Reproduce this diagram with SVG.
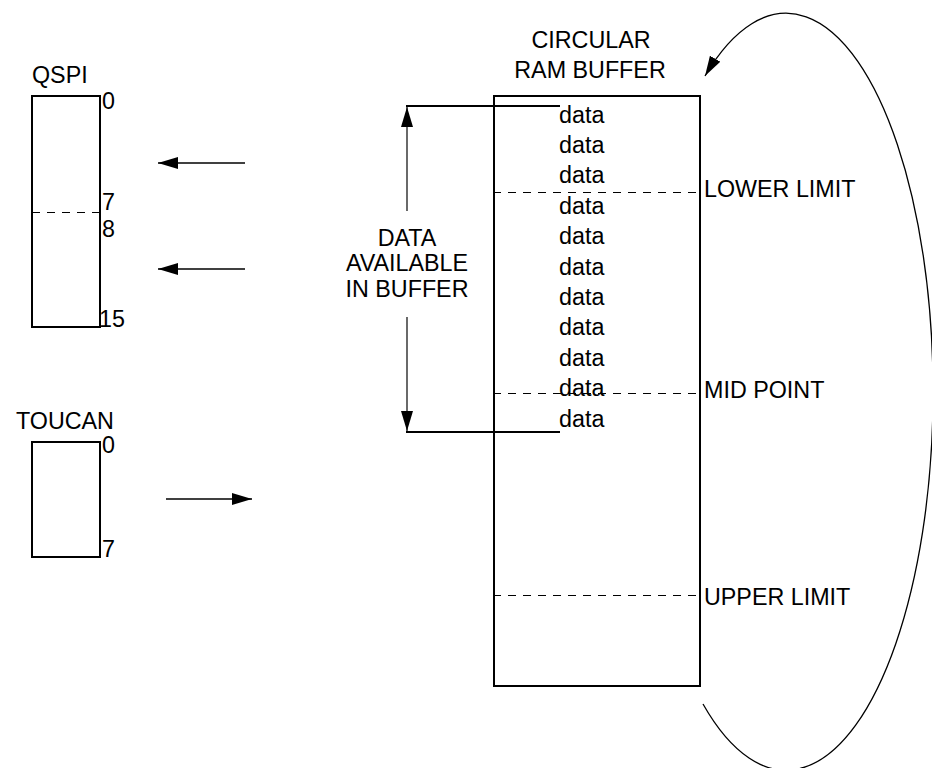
<svg xmlns="http://www.w3.org/2000/svg" width="932" height="768" viewBox="0 0 932 768">
<style>
text{font-family:"Liberation Sans",Arial,sans-serif;font-size:23.3px;fill:#000}
.box{fill:none;stroke:#000;stroke-width:2}
.dash{fill:none;stroke:#000;stroke-width:1;stroke-dasharray:8 7}
.arr{fill:none;stroke:#000;stroke-width:1.3}
.brk{fill:none;stroke:#000;stroke-width:2}
.vl{fill:none;stroke:#444;stroke-width:1.6}
.mid{text-anchor:middle}
</style>
<defs>
<marker id="ah" markerUnits="userSpaceOnUse" markerWidth="20" markerHeight="12" refX="20" refY="6" orient="auto" viewBox="0 0 20 12">
<path d="M0,0 L20,6 L0,12 z" fill="#000"/>
</marker>
</defs>
<g id="qspi">
<text x="32" y="83">QSPI</text>
<rect class="box" x="32" y="96" width="68" height="231"/>
<line class="dash" x1="32" y1="212.5" x2="100" y2="212.5"/>
<text x="102" y="109">0</text>
<text x="102" y="210">7</text>
<text x="102" y="237">8</text>
<text x="99" y="327">15</text>
</g>
<g id="toucan">
<text x="16" y="429">TOUCAN</text>
<rect class="box" x="32" y="442" width="68" height="115"/>
<text x="102" y="453">0</text>
<text x="102" y="557">7</text>
</g>
<g id="buffer">
<text class="mid" x="591" y="48">CIRCULAR</text>
<text class="mid" x="590" y="78">RAM BUFFER</text>
<rect class="box" x="494" y="96" width="206" height="590"/>
<line class="dash" x1="493" y1="192.5" x2="700" y2="192.5"/>
<line class="dash" x1="493" y1="393.5" x2="700" y2="393.5"/>
<line class="dash" x1="493" y1="595.5" x2="700" y2="595.5"/>
<text x="704" y="197">LOWER LIMIT</text>
<text x="704" y="398">MID POINT</text>
<text x="704" y="605">UPPER LIMIT</text>
<text x="559" y="123">data</text>
<text x="559" y="153">data</text>
<text x="559" y="183">data</text>
<text x="559" y="214">data</text>
<text x="559" y="244">data</text>
<text x="559" y="275">data</text>
<text x="559" y="305">data</text>
<text x="559" y="335">data</text>
<text x="559" y="366">data</text>
<text x="559" y="396">data</text>
<text x="559" y="427">data</text>
</g>
<g id="available">
<text class="mid" x="407" y="246">DATA</text>
<text class="mid" x="407" y="271">AVAILABLE</text>
<text class="mid" x="407" y="297">IN BUFFER</text>
</g>
<g id="connectors">
<line class="brk" x1="406" y1="106" x2="560" y2="106"/>
<line class="brk" x1="406" y1="432" x2="560" y2="432"/>
<line class="vl" x1="407" y1="211" x2="407" y2="107" marker-end="url(#ah)"/>
<line class="vl" x1="407" y1="317" x2="407" y2="431" marker-end="url(#ah)"/>
<line class="arr" x1="245" y1="163" x2="158" y2="163" marker-end="url(#ah)"/>
<line class="arr" x1="245" y1="269" x2="158" y2="269" marker-end="url(#ah)"/>
<line class="arr" x1="166" y1="499" x2="252" y2="499" marker-end="url(#ah)"/>
<path class="arr" d="M703,704 A147,378.5 0 1 0 705,76" marker-end="url(#ah)"/>
</g>
</svg>
